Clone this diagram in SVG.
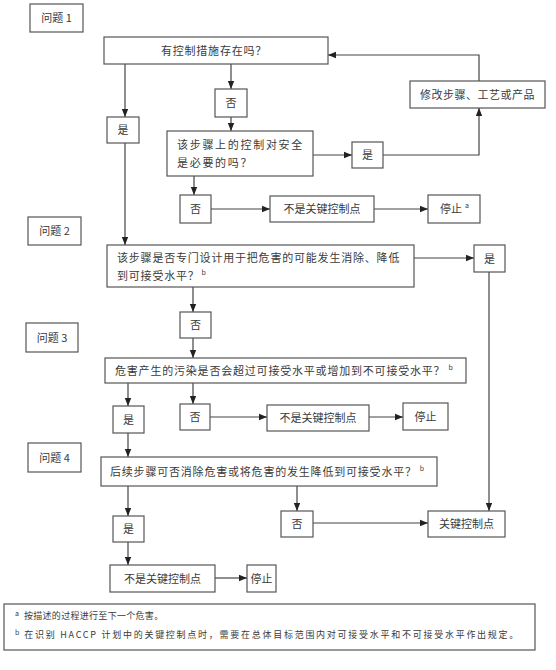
<svg xmlns="http://www.w3.org/2000/svg" width="556" height="670" viewBox="0 0 556 670">
<style>
rect.b{fill:#fff;stroke:#555;stroke-width:1.2}
text{font-family:"Noto Sans CJK SC","Noto Sans",sans-serif;font-size:11px;fill:#3a3a3a}
text.c{text-anchor:middle}
text.q{letter-spacing:0.8px}
text.f{font-size:9px}
tspan.s{font-size:7px}
#connectors path{fill:none;stroke:#444;stroke-width:1.2;marker-end:url(#ah)}
</style>
<defs>
<marker id="ah" markerUnits="userSpaceOnUse" markerWidth="8" markerHeight="8" viewBox="0 0 8 8" refX="8" refY="4" orient="auto">
<path d="M0,0.8 L8,4 L0,7.2 Z" fill="#222"/>
</marker>
</defs>
<rect width="556" height="670" fill="#fff"/>
<g id="connectors">
<path d="M125,64 V117"/>
<path d="M231,64 V89"/>
<path d="M231,117 V131"/>
<path d="M313,155 H352"/>
<path d="M383,155 H479 V108"/>
<path d="M479,81 V55 H328"/>
<path d="M194,176 V195"/>
<path d="M211,209 H270"/>
<path d="M374,209 H428"/>
<path d="M125,143 V245"/>
<path d="M414,258 H474"/>
<path d="M489,272 V511"/>
<path d="M193,287 V312"/>
<path d="M193,338 V358"/>
<path d="M128,383 V406"/>
<path d="M193,383 V404"/>
<path d="M210,417 H267"/>
<path d="M369,417 H403"/>
<path d="M128,433 V457"/>
<path d="M128,486 V516"/>
<path d="M297,486 V511"/>
<path d="M313,523 H428"/>
<path d="M128,542 V565"/>
<path d="M215,578 H247"/>
</g>
<g id="q1label"><rect class="b" x="30" y="4" width="53" height="28"/><text class="c" x="56.5" y="22">问题 1</text></g>
<g id="q1"><rect class="b" x="104" y="37" width="224" height="27"/><text class="c q" x="214" y="54.5">有控制措施存在吗？</text></g>
<g id="modify"><rect class="b" x="410" y="81" width="135" height="27"/><text class="c" x="477.5" y="98.5" letter-spacing="0.5">修改步骤、工艺或产品</text></g>
<g id="yes1"><rect class="b" x="107" y="117" width="32" height="26"/><text class="c" x="123" y="134">是</text></g>
<g id="no1"><rect class="b" x="215" y="89" width="32" height="28"/><text class="c" x="231" y="107">否</text></g>
<g id="q1b"><rect class="b" x="167" y="131" width="146" height="45"/><text x="177" y="149" letter-spacing="1.7">该步骤上的控制对安全</text><text x="177" y="167" letter-spacing="1.7">是必要的吗？</text></g>
<g id="yes2"><rect class="b" x="352" y="142" width="31" height="26"/><text class="c" x="367.5" y="159">是</text></g>
<g id="no2"><rect class="b" x="180" y="195" width="31" height="28"/><text class="c" x="195.5" y="213">否</text></g>
<g id="notccp1"><rect class="b" x="270" y="196" width="104" height="26"/><text class="c" x="322" y="213">不是关键控制点</text></g>
<g id="stop1"><rect class="b" x="428" y="195" width="52" height="28"/><text x="440" y="213">停止<tspan class="s" dx="3" dy="-5">a</tspan></text></g>
<g id="q2label"><rect class="b" x="28" y="217" width="53" height="28"/><text class="c" x="54.5" y="235">问题 2</text></g>
<g id="q2"><rect class="b" x="107" y="245" width="307" height="42"/><text class="q" x="117" y="262">该步骤是否专门设计用于把危害的可能发生消除、降低</text><text class="q" x="117" y="280">到可接受水平？<tspan class="s" dx="2" dy="-5">b</tspan></text></g>
<g id="yes3"><rect class="b" x="474" y="245" width="31" height="27"/><text class="c" x="489.5" y="262.5">是</text></g>
<g id="no3"><rect class="b" x="180" y="312" width="31" height="26"/><text class="c" x="195.5" y="329">否</text></g>
<g id="q3label"><rect class="b" x="26" y="323" width="52" height="29"/><text class="c" x="52" y="341.5">问题 3</text></g>
<g id="q3"><rect class="b" x="105" y="358" width="361" height="25"/><text class="q" x="115" y="374.5">危害产生的污染是否会超过可接受水平或增加到不可接受水平？<tspan class="s" dx="3" dy="-5">b</tspan></text></g>
<g id="yes4"><rect class="b" x="113" y="406" width="31" height="27"/><text class="c" x="128.5" y="423.5">是</text></g>
<g id="no4"><rect class="b" x="180" y="404" width="30" height="26"/><text class="c" x="195" y="421">否</text></g>
<g id="notccp2"><rect class="b" x="267" y="405" width="102" height="26"/><text class="c" x="318" y="422">不是关键控制点</text></g>
<g id="stop2"><rect class="b" x="403" y="403" width="45" height="27"/><text class="c" x="425.5" y="420.5">停止</text></g>
<g id="q4label"><rect class="b" x="28" y="443" width="53" height="29"/><text class="c" x="54.5" y="461.5">问题 4</text></g>
<g id="q4"><rect class="b" x="101" y="457" width="336" height="29"/><text class="q" x="110" y="475.5">后续步骤可否消除危害或将危害的发生降低到可接受水平？<tspan class="s" dx="3" dy="-5">b</tspan></text></g>
<g id="yes5"><rect class="b" x="113" y="516" width="31" height="26"/><text class="c" x="128.5" y="533">是</text></g>
<g id="no5"><rect class="b" x="281" y="511" width="32" height="26"/><text class="c" x="297" y="528">否</text></g>
<g id="ccp"><rect class="b" x="428" y="511" width="77" height="26"/><text class="c" x="466.5" y="528">关键控制点</text></g>
<g id="notccp3"><rect class="b" x="110" y="565" width="105" height="27"/><text class="c" x="162.5" y="582.5">不是关键控制点</text></g>
<g id="stop3"><rect class="b" x="247" y="565" width="29" height="27"/><text class="c" x="261.5" y="582.5">停止</text></g>
<g id="footnotes"><rect class="b" x="4" y="604" width="531" height="46"/>
<text class="f" x="15" y="619"><tspan class="s" dy="-3">a</tspan><tspan dx="5" dy="3" letter-spacing="0.3">按描述的过程进行至下一个危害。</tspan></text>
<text class="f" x="15" y="638"><tspan class="s" dy="-3">b</tspan><tspan dx="5" dy="3" textLength="494" lengthAdjust="spacing">在识别 HACCP 计划中的关键控制点时，需要在总体目标范围内对可接受水平和不可接受水平作出规定。</tspan></text>
</g>
</svg>
